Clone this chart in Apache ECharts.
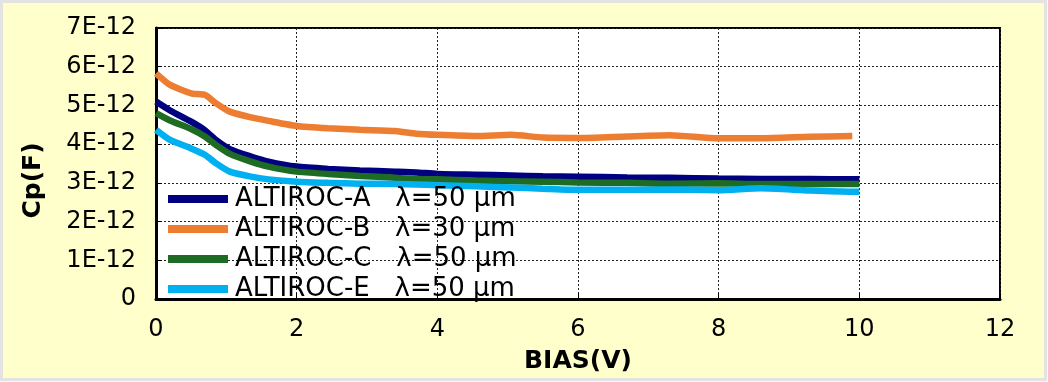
<!DOCTYPE html>
<html>
<head>
<meta charset="utf-8">
<script src="https://cdn.jsdelivr.net/npm/echarts@6/dist/echarts.min.js"></script>
<style>
html,body{margin:0;padding:0;background:#ffffcc;}
#c{width:1048px;height:382px;}
</style>
</head>
<body>
<div id="c"></div>
<script>
// Bias voltage (V)
const bias = [0, 0.2, 0.5, 0.7, 0.85, 1.05, 1.35, 1.6, 2, 2.45, 2.9, 3.4, 3.7, 4, 4.55, 5.05, 5.5, 6, 6.7, 7.3, 8, 8.6, 9.3, 9.9, 10];
// Capacitance in units of 1E-12 F
const altirocA = [5.10, 4.87, 4.58, 4.35, 4.11, 3.87, 3.68, 3.55, 3.42, 3.36, 3.32, 3.29, 3.27, 3.23, 3.21, 3.19, 3.17, 3.16, 3.14, 3.13, 3.11, 3.10, 3.10, 3.09, 3.09];
const altirocB = [5.83, 5.53, 5.31, 5.27, 5.06, 4.84, 4.69, 4.60, 4.47, 4.41, 4.37, 4.34, 4.27, 4.24, 4.21, 4.24, 4.17, 4.16, 4.20, 4.23, 4.15, 4.15, 4.19, 4.21, null];
const altirocC = [4.80, 4.61, 4.39, 4.19, 3.98, 3.75, 3.55, 3.42, 3.29, 3.23, 3.18, 3.13, 3.10, 3.09, 3.06, 3.04, 3.03, 3.01, 3.00, 2.98, 2.99, 2.97, 2.97, 2.97, 2.97];
const altirocE = [4.37, 4.11, 3.89, 3.72, 3.51, 3.29, 3.16, 3.09, 3.03, 3.00, 2.98, 2.97, 2.96, 2.94, 2.91, 2.88, 2.85, 2.82, 2.82, 2.83, 2.81, 2.86, 2.80, 2.77, 2.77];
const seriesNames = ['ALTIROC-A   λ=50 μm', 'ALTIROC-B   λ=30 μm', 'ALTIROC-C   λ=50 μm', 'ALTIROC-E   λ=50 μm'];
const seriesColors = ['#000080', '#ED7D31', '#1E6B24', '#00B0F0'];
const yTickLabels = ['0', '1E-12', '2E-12', '3E-12', '4E-12', '5E-12', '6E-12', '7E-12'];
const xTickLabels = ['0', '2', '4', '6', '8', '10', '12'];

const allValues = [altirocA, altirocB, altirocC, altirocE];
const FONT = 'DejaVu Sans';

const chart = echarts.init(document.getElementById('c'), null, {renderer: 'canvas'});
chart.setOption({
  backgroundColor: '#ffffcc',
  animation: false,
  graphic: [{
    type: 'rect', z: 100, silent: true,
    shape: {x: 1.5, y: 1.5, width: 1044, height: 378},
    style: {fill: 'none', stroke: '#e3e3e3', lineWidth: 3}
  }],
  grid: {left: 156, right: 48, top: 28, bottom: 83, show: true, backgroundColor: '#ffffff', borderColor: '#000', borderWidth: 2},
  legend: {
    orient: 'vertical', left: 163, top: 181, itemGap: 4, padding: 5,
    itemWidth: 60, itemHeight: 8, icon: 'rect',
    data: seriesNames,
    textStyle: {fontFamily: FONT, fontSize: 26, color: '#000', lineHeight: 26, padding: [0, 0, 0, 2]}
  },
  xAxis: {
    type: 'value', min: 0, max: 12, interval: 2,
    name: 'BIAS(V)', nameLocation: 'middle', nameGap: 50,
    nameTextStyle: {fontFamily: FONT, fontSize: 25, fontWeight: 'bold', color: '#000'},
    axisLine: {show: true, lineStyle: {color: '#000', width: 3}},
    axisTick: {show: true, inside: true, length: 6, lineStyle: {color: '#000', width: 1}},
    axisLabel: {fontFamily: FONT, fontSize: 24, color: '#000', margin: 19,
      formatter: (v) => xTickLabels[Math.round(v / 2)]},
    splitLine: {show: true, lineStyle: {color: '#222', type: [2, 2], width: 1}}
  },
  yAxis: {
    type: 'value', min: 0, max: 7, interval: 1,
    name: 'Cp(F)', nameLocation: 'middle', nameGap: 110,
    nameTextStyle: {fontFamily: FONT, fontSize: 25, fontWeight: 'bold', color: '#000', padding: [0, 34, 0, 0]},
    axisLine: {show: true, lineStyle: {color: '#000', width: 3}},
    axisTick: {show: true, inside: true, length: 6, lineStyle: {color: '#000', width: 1}},
    axisLabel: {fontFamily: FONT, fontSize: 24, color: '#000', margin: 20,
      formatter: (v) => yTickLabels[Math.round(v)]},
    splitLine: {show: true, lineStyle: {color: '#222', type: [2, 2], width: 1}}
  },
  series: seriesNames.map((name, i) => ({
    name: name,
    type: 'line',
    data: bias.map((b, j) => [b, allValues[i][j]]),
    showSymbol: false,
    smooth: 0.2,
    connectNulls: false,
    color: seriesColors[i],
    lineStyle: {color: seriesColors[i], width: 6.5}
  }))
});
</script>
</body>
</html>
